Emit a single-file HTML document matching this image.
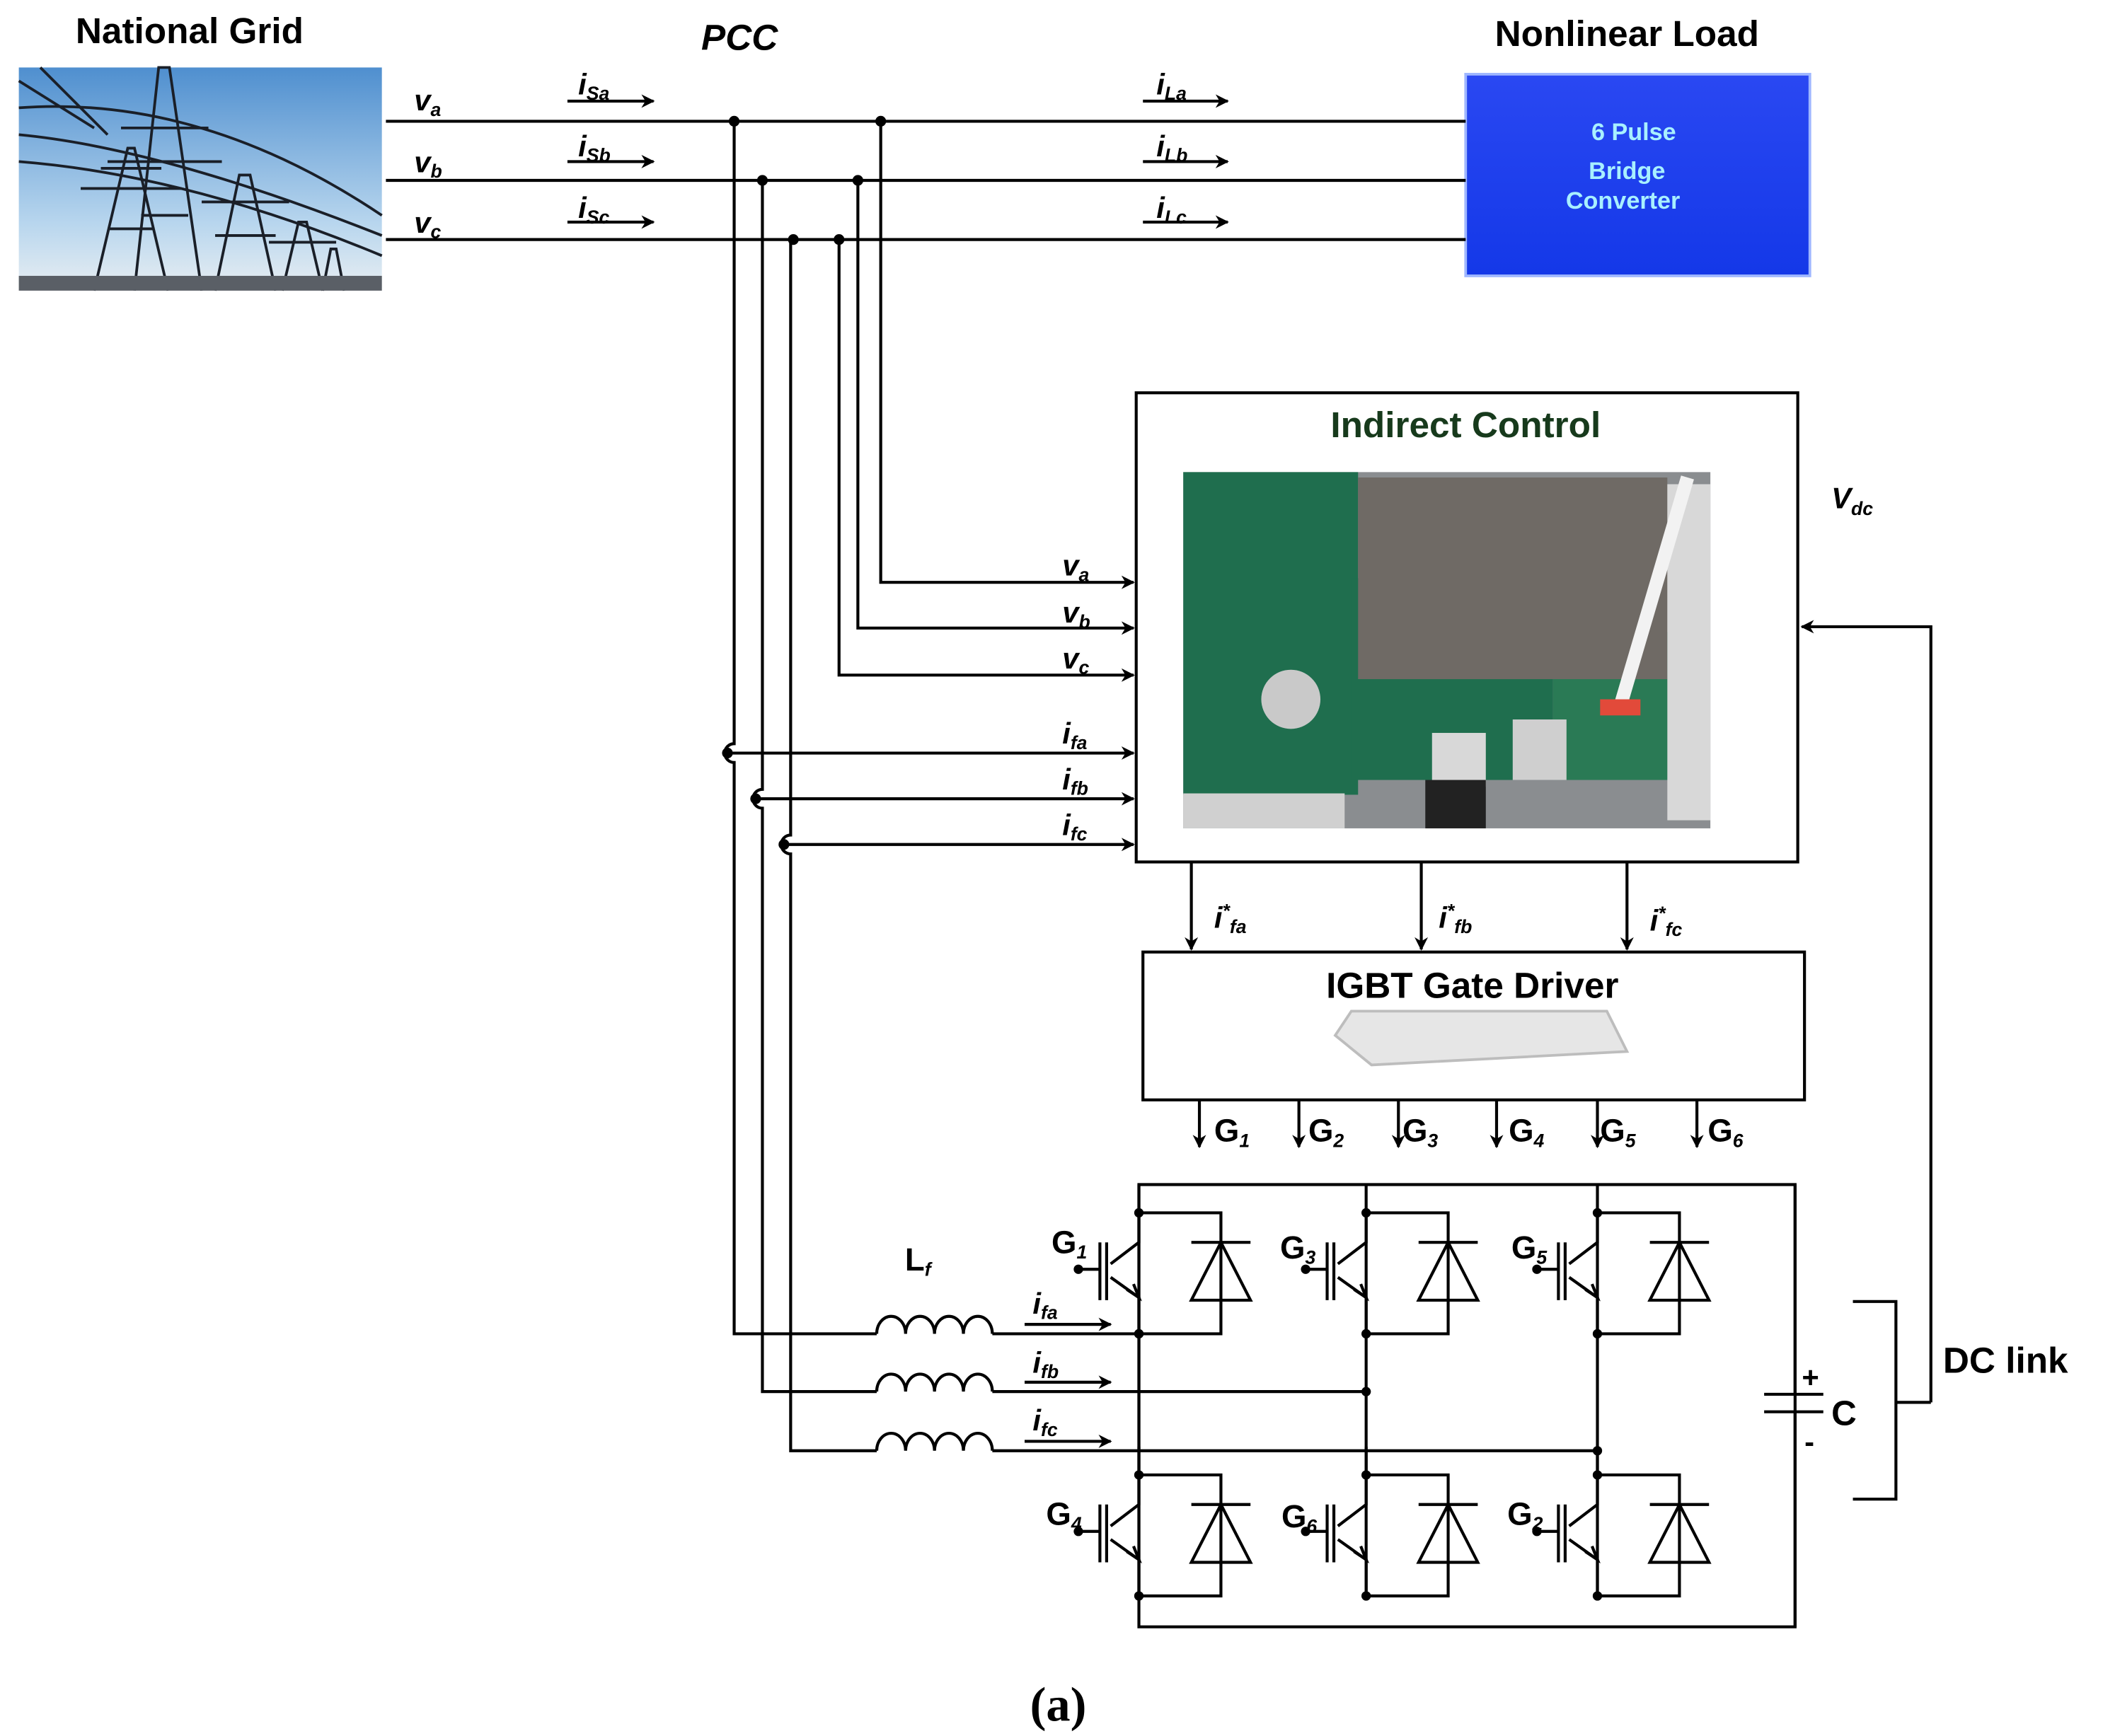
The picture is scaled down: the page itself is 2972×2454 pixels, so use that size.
<!DOCTYPE html>
<html><head><meta charset="utf-8"><style>
html,body{margin:0;padding:0;background:#fff}
svg{display:block}
text{font-family:"Liberation Sans",Arial,sans-serif}
.l{font-weight:bold;font-style:italic;font-size:22px}
.s{font-size:14px}
.t{font-weight:bold;font-size:27px}
</style></head><body>
<svg width="2972" height="2454" viewBox="0 0 1564 1291" xmlns="http://www.w3.org/2000/svg">
<defs>
<marker id="ar" markerWidth="10" markerHeight="10" refX="9" refY="5" orient="auto" markerUnits="userSpaceOnUse"><path d="M0,0 L10,5 L0,10 L3,5 Z" fill="#000"/></marker>
<linearGradient id="sky" x1="0" y1="0" x2="0" y2="1"><stop offset="0" stop-color="#4f8fcf"/><stop offset="0.7" stop-color="#b8d6ee"/><stop offset="1" stop-color="#e8eef2"/></linearGradient>
<linearGradient id="blue" x1="0" y1="0" x2="0" y2="1"><stop offset="0" stop-color="#2a48f2"/><stop offset="1" stop-color="#1438e8"/></linearGradient>
<g id="igbt" fill="none" stroke="#000" stroke-width="2.2">
<path d="M847,0 V21 H908 V111 H847 Z" fill="none"/>
<path d="M847,21 V43 L826,59 M826,69 L847,84 V111"/>
<path d="M838,78 L847,84 L843,74" />
<path d="M818,43 V86 M823,43 V86 M800,63 H818"/>
<path d="M886,43 H930 M908,43 L886,86 H930 Z"/>
<circle cx="847" cy="21" r="3.5" fill="#000" stroke="none"/>
<circle cx="847" cy="111" r="3.5" fill="#000" stroke="none"/>
<circle cx="802" cy="63" r="3.5" fill="#000" stroke="none"/>
</g>
</defs>

<!-- grid photo -->
<rect x="14" y="50" width="270" height="166" fill="url(#sky)"/>
<g stroke="#1a1f28" stroke-width="2" fill="none">
<path d="M70,216 L95,110 L100,110 L125,216 M80,170 H115 M60,140 H135 M75,125 H120"/>
<path d="M100,216 L118,50 L126,50 L150,216 M90,95 H155 M80,120 H165 M105,160 H140"/>
<path d="M160,216 L178,130 L186,130 L205,216 M150,150 H215 M160,175 H205"/>
<path d="M210,216 L222,165 L228,165 L240,216 M200,180 H250"/>
<path d="M240,216 L246,185 L250,185 L256,216"/>
<path d="M14,80 Q150,70 284,160 M14,100 Q120,110 284,175 M14,120 Q140,130 284,190"/>
<path d="M14,60 L70,95 M30,50 L80,100"/>
</g>
<rect x="14" y="205" width="270" height="11" fill="#5a5f66"/>
<text x="141" y="32" class="t" text-anchor="middle" font-size="26">National Grid</text>
<text x="550" y="37" class="t" font-style="italic" text-anchor="middle" font-size="26">PCC</text>
<text x="1210" y="34" class="t" text-anchor="middle" font-size="26">Nonlinear Load</text>

<!-- load -->
<rect x="1090" y="55" width="256" height="150" fill="url(#blue)" stroke="#9fb7ff" stroke-width="2"/>
<g fill="#a8f0ff" font-weight="bold" font-size="18" text-anchor="middle">
<text x="1215" y="104">6 Pulse</text><text x="1210" y="133">Bridge</text><text x="1207" y="155">Converter</text></g>

<g stroke="#000" stroke-width="2.2" fill="none">
<path d="M287,90 H1090 M287,134 H1090 M287,178 H1090"/>
<path d="M546,90 V553 A7,7 0 0 0 546,567 V992 H652"/>
<path d="M567,134 V587 A7,7 0 0 0 567,601 V1035 H652"/>
<path d="M588,178 V621 A7,7 0 0 0 588,635 V1079 H652"/>
<path d="M655,90 V433 H843" marker-end="url(#ar)"/>
<path d="M638,134 V467 H843" marker-end="url(#ar)"/>
<path d="M624,178 V502 H843" marker-end="url(#ar)"/>
<path d="M541,560 H843" marker-end="url(#ar)"/>
<path d="M562,594 H843" marker-end="url(#ar)"/>
<path d="M583,628 H843" marker-end="url(#ar)"/>
<path d="M422,75 H486" marker-end="url(#ar)"/>
<path d="M422,120 H486" marker-end="url(#ar)"/>
<path d="M422,165 H486" marker-end="url(#ar)"/>
<path d="M850,75 H913" marker-end="url(#ar)"/>
<path d="M850,120 H913" marker-end="url(#ar)"/>
<path d="M850,165 H913" marker-end="url(#ar)"/>
<rect x="845" y="292" width="492" height="349"/>
<path d="M886,641 V706" marker-end="url(#ar)"/>
<path d="M1057,641 V706" marker-end="url(#ar)"/>
<path d="M1210,641 V706" marker-end="url(#ar)"/>
<rect x="850" y="708" width="492" height="110"/>
<path d="M892,818 V853" marker-end="url(#ar)"/>
<path d="M966,818 V853" marker-end="url(#ar)"/>
<path d="M1040,818 V853" marker-end="url(#ar)"/>
<path d="M1113,818 V853" marker-end="url(#ar)"/>
<path d="M1188,818 V853" marker-end="url(#ar)"/>
<path d="M1262,818 V853" marker-end="url(#ar)"/>
<path d="M1436,1043 V466 H1340" marker-end="url(#ar)"/>
<path d="M1410,1043 H1436 M1378,968 H1410 V1115 H1378"/>
<path d="M847,881 H1335 V1210 H847 Z"/>
<path d="M847,992 V1096 M1016,992 V1096 M1188,992 V1096"/>
<path d="M738,992 H847 M738,1035 H1016 M738,1079 H1188"/>
<path d="M762,985 H826" marker-end="url(#ar)"/>
<path d="M762,1028 H826" marker-end="url(#ar)"/>
<path d="M762,1072 H826" marker-end="url(#ar)"/>
<path d="M652,992 a10.75,13 0 0 1 21.5,0 a10.75,13 0 0 1 21.5,0 a10.75,13 0 0 1 21.5,0 a10.75,13 0 0 1 21.5,0"/>
<path d="M652,1035 a10.75,13 0 0 1 21.5,0 a10.75,13 0 0 1 21.5,0 a10.75,13 0 0 1 21.5,0 a10.75,13 0 0 1 21.5,0"/>
<path d="M652,1079 a10.75,13 0 0 1 21.5,0 a10.75,13 0 0 1 21.5,0 a10.75,13 0 0 1 21.5,0 a10.75,13 0 0 1 21.5,0"/>
<path d="M1335,881 V1037 M1312,1037 H1356 M1312,1050 H1356 M1335,1050 V1210"/>
</g>
<g fill="#000">
<circle cx="546" cy="90" r="4"/><circle cx="655" cy="90" r="4"/>
<circle cx="567" cy="134" r="4"/><circle cx="638" cy="134" r="4"/>
<circle cx="590" cy="178" r="4"/><circle cx="624" cy="178" r="4"/>
<circle cx="541" cy="560" r="4"/><circle cx="562" cy="594" r="4"/><circle cx="583" cy="628" r="4"/>
<circle cx="847" cy="992" r="3.5"/><circle cx="1016" cy="1035" r="3.5"/><circle cx="1188" cy="1079" r="3.5"/>
</g>
<use href="#igbt" y="881"/><use href="#igbt" x="169" y="881"/><use href="#igbt" x="341" y="881"/>
<use href="#igbt" y="1076"/><use href="#igbt" x="169" y="1076"/><use href="#igbt" x="341" y="1076"/>

<g class="l">
<text x="308" y="82">v<tspan class="s" dy="4">a</tspan></text>
<text x="308" y="128">v<tspan class="s" dy="4">b</tspan></text>
<text x="308" y="173">v<tspan class="s" dy="4">c</tspan></text>
<text x="430" y="70">i<tspan class="s" dy="4">Sa</tspan></text>
<text x="430" y="116">i<tspan class="s" dy="4">Sb</tspan></text>
<text x="430" y="162">i<tspan class="s" dy="4">Sc</tspan></text>
<text x="860" y="70">i<tspan class="s" dy="4">La</tspan></text>
<text x="860" y="116">i<tspan class="s" dy="4">Lb</tspan></text>
<text x="860" y="162">i<tspan class="s" dy="4">Lc</tspan></text>
<text x="790" y="428">v<tspan class="s" dy="4">a</tspan></text>
<text x="790" y="463">v<tspan class="s" dy="4">b</tspan></text>
<text x="790" y="497">v<tspan class="s" dy="4">c</tspan></text>
<text x="790" y="553">i<tspan class="s" dy="4">fa</tspan></text>
<text x="790" y="587">i<tspan class="s" dy="4">fb</tspan></text>
<text x="790" y="621">i<tspan class="s" dy="4">fc</tspan></text>
<text x="1362" y="378">V<tspan class="s" dy="5">dc</tspan></text>
<text x="903" y="690">i<tspan class="s" dy="-8">*</tspan><tspan class="s" dy="12">fa</tspan></text>
<text x="1070" y="690">i<tspan class="s" dy="-8">*</tspan><tspan class="s" dy="12">fb</tspan></text>
<text x="1227" y="692">i<tspan class="s" dy="-8">*</tspan><tspan class="s" dy="12">fc</tspan></text>
<text x="768" y="977">i<tspan class="s" dy="4">fa</tspan></text>
<text x="768" y="1021">i<tspan class="s" dy="4">fb</tspan></text>
<text x="768" y="1064">i<tspan class="s" dy="4">fc</tspan></text>
</g>
<g font-weight="bold" font-size="24">
<text x="903" y="849">G<tspan class="s" font-style="italic" dy="4">1</tspan></text>
<text x="973" y="849">G<tspan class="s" font-style="italic" dy="4">2</tspan></text>
<text x="1043" y="849">G<tspan class="s" font-style="italic" dy="4">3</tspan></text>
<text x="1122" y="849">G<tspan class="s" font-style="italic" dy="4">4</tspan></text>
<text x="1190" y="849">G<tspan class="s" font-style="italic" dy="4">5</tspan></text>
<text x="1270" y="849">G<tspan class="s" font-style="italic" dy="4">6</tspan></text>
<text x="782" y="932">G<tspan class="s" font-style="italic" dy="4">1</tspan></text>
<text x="952" y="936">G<tspan class="s" font-style="italic" dy="4">3</tspan></text>
<text x="1124" y="936">G<tspan class="s" font-style="italic" dy="4">5</tspan></text>
<text x="778" y="1134">G<tspan class="s" font-style="italic" dy="4">4</tspan></text>
<text x="953" y="1136">G<tspan class="s" font-style="italic" dy="4">6</tspan></text>
<text x="1121" y="1134">G<tspan class="s" font-style="italic" dy="4">2</tspan></text>
<text x="673" y="945">L<tspan class="s" font-style="italic" dy="4">f</tspan></text>
<text x="1340" y="1032" font-size="22">+</text>
<text x="1342" y="1080" font-size="22">-</text>
<text x="1362" y="1060" font-size="26">C</text>
<text x="1445" y="1021" font-size="27">DC link</text>
</g>

<text x="1090" y="325" class="t" text-anchor="middle" fill="#173a1c">Indirect Control</text>
<rect x="880" y="351" width="392" height="265" fill="#8a8d90"/>
<rect x="880" y="351" width="130" height="240" fill="#1f6e4e"/>
<rect x="1005" y="430" width="150" height="150" fill="#1f6e4e"/>
<rect x="1155" y="470" width="95" height="110" fill="#2a7a55"/>
<rect x="1010" y="355" width="230" height="150" fill="#6f6a65"/>
<rect x="1240" y="360" width="32" height="250" fill="#d8d8d8"/>
<path d="M1255,355 L1205,525" stroke="#f2f2f2" stroke-width="10"/>
<circle cx="960" cy="520" r="22" fill="#c9c9c9"/>
<rect x="880" y="590" width="120" height="26" fill="#d0d0d0"/>
<rect x="1065" y="545" width="40" height="40" fill="#d8d8d8"/>
<rect x="1125" y="535" width="40" height="45" fill="#cfcfcf"/>
<rect x="1060" y="580" width="45" height="36" fill="#222"/>
<rect x="1190" y="520" width="30" height="12" fill="#e24a3a"/>
<text x="1095" y="742" class="t" text-anchor="middle">IGBT Gate Driver</text>
<path d="M1005,752 L1195,752 L1210,782 L1020,792 L993,770 Z" fill="#e6e6e6" stroke="#bdbdbd" stroke-width="2"/>
<text x="787" y="1280" font-size="36" font-weight="bold" text-anchor="middle" style="font-family:'Liberation Serif',serif">(a)</text>
</svg>
</body></html>
